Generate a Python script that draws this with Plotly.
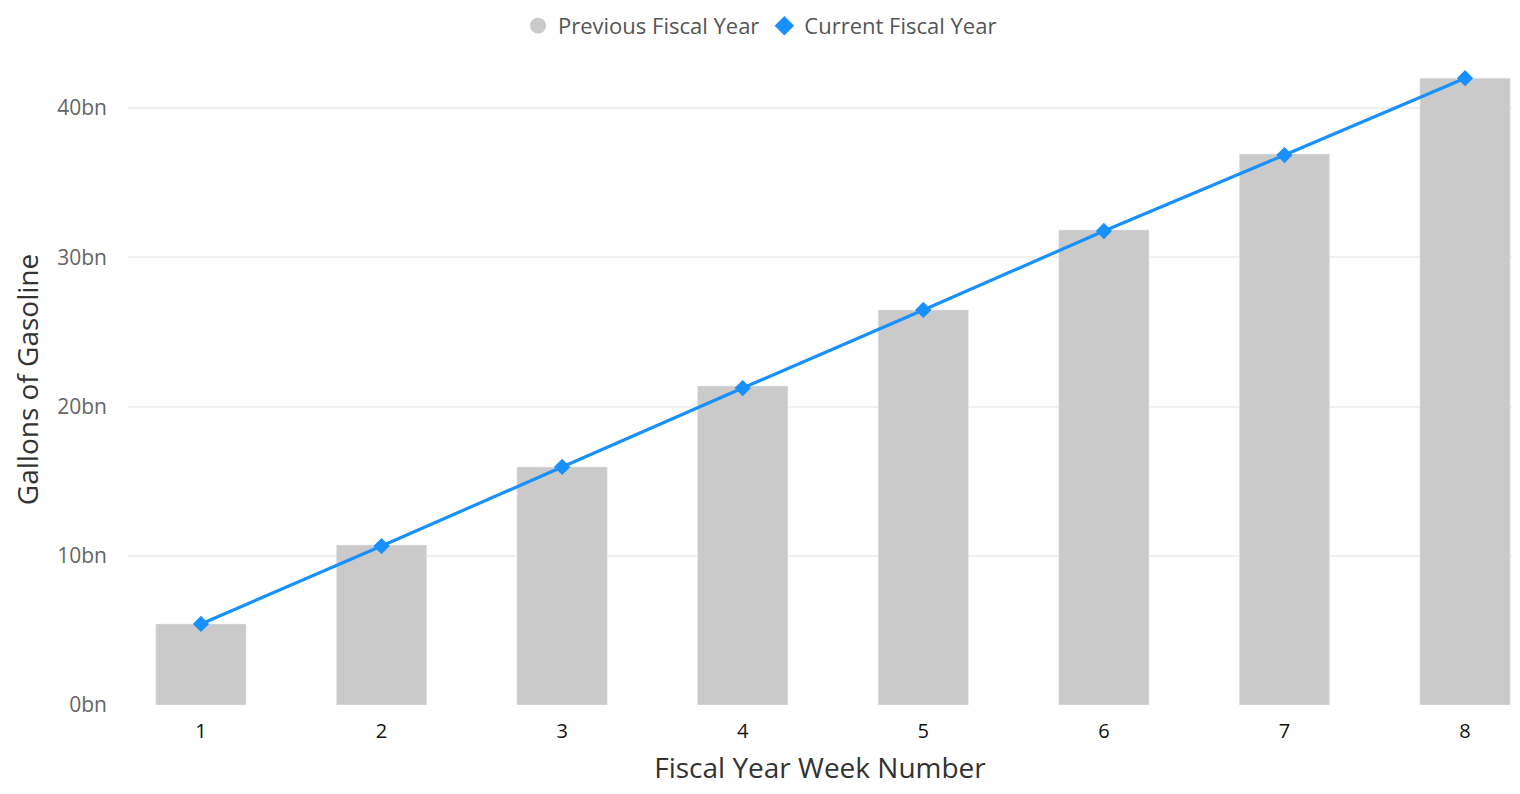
import plotly.graph_objects as go

weeks = [1, 2, 3, 4, 5, 6, 7, 8]
previous_fy = [5.43, 10.72, 15.95, 21.37, 26.47, 31.83, 36.92, 42.0]
current_fy = [5.43, 10.65, 15.95, 21.24, 26.47, 31.76, 36.85, 42.0]
y_ticks = [0, 10, 20, 30, 40]
y_tick_labels = ["0bn", "10bn", "20bn", "30bn", "40bn"]

FONT = "Open Sans"
BLUE = "#1890ff"
GREY = "#cacaca"

fig = go.Figure()
fig.add_trace(go.Bar(
    x=weeks, y=previous_fy, name="Previous Fiscal Year",
    marker=dict(color=GREY), width=0.5, showlegend=False,
))
fig.add_trace(go.Scatter(
    x=weeks, y=current_fy, name="Current Fiscal Year", mode="lines+markers",
    line=dict(color=BLUE, width=3.2),
    marker=dict(symbol="diamond", size=12.5, color=BLUE), showlegend=False,
))
# legend-only entries (circle for bars, diamond for line)
fig.add_trace(go.Scatter(
    x=[None], y=[None], mode="markers", name="Previous Fiscal Year",
    marker=dict(symbol="circle", size=19, color=GREY),
))
fig.add_trace(go.Scatter(
    x=[None], y=[None], mode="markers", name="Current Fiscal Year",
    marker=dict(symbol="diamond", size=15, color=BLUE),
))

fig.update_layout(
    width=1504, height=778,
    paper_bgcolor="white", plot_bgcolor="white",
    margin=dict(l=120, r=0, t=46, b=81),
    font=dict(family=FONT, color="#555555"),
    legend=dict(orientation="h", xref="container", x=0.5, xanchor="center",
                yref="container", y=0.977, yanchor="middle",
                font=dict(size=22, color="#555555"),
                itemsizing="trace", traceorder="normal", itemwidth=30),
    xaxis=dict(
        range=[0.596, 8.26], tickvals=weeks, ticktext=[str(w) for w in weeks],
        showgrid=False, zeroline=False, showline=False,
        tickfont=dict(size=20, color="#111111"), ticklabelstandoff=12,
        title=dict(text="Fiscal Year Week Number", font=dict(size=28, color="#333333"), standoff=16),
    ),
    yaxis=dict(
        range=[0, 43.62], tickvals=y_ticks, ticktext=y_tick_labels,
        showgrid=True, gridcolor="#f0f0f0", gridwidth=2, zeroline=False, showline=False,
        tickfont=dict(size=21, color="#666666"), ticklabelstandoff=20,
        title=dict(text="Gallons of Gasoline", font=dict(size=28, color="#333333"), standoff=26),
    ),
)
fig.write_html("out.html")
